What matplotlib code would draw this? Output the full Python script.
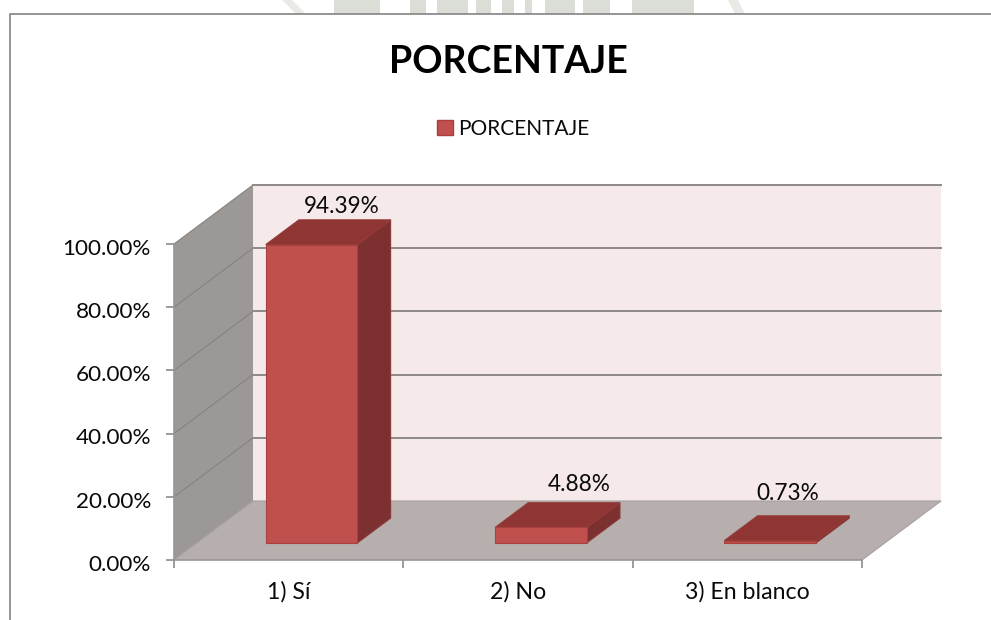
import matplotlib
matplotlib.use('Agg')
import matplotlib.pyplot as plt
from matplotlib.patches import Polygon, Patch, Rectangle
from matplotlib.transforms import ScaledTranslation

categories = ['1) Sí', '2) No', '3) En blanco']
valores = [94.39, 4.88, 0.73]
etiquetas = ['94.39%', '4.88%', '0.73%']
yticks = [0, 20, 40, 60, 80, 100]
ytick_labels = ['0.00%', '20.00%', '40.00%', '60.00%', '80.00%', '100.00%']

W, H = 991, 620
plt.rcParams['font.family'] = ['Lato', 'DejaVu Sans']

fig = plt.figure(figsize=(W / 100, H / 100), dpi=100)

# faint watermark of the scanned page, cut off by the chart frame
for a, b in [(334, 380), (410, 426), (437, 468), (476, 491), (502, 514), (525, 532), (545, 575),
             (583, 610), (632, 694)]:
    fig.add_artist(Rectangle((a / W, 1 - 14 / H), (b - a) / W, 14 / H, transform=fig.transFigure,
                             facecolor='#DADED6', edgecolor='none'))
for a, b in [(282, 306), (728, 745)]:
    fig.add_artist(Polygon([(a / W, 1), ((a + 10) / W, 1), (b / W, 1 - 14 / H), ((b - 10) / W, 1 - 14 / H)],
                           closed=True, transform=fig.transFigure, facecolor='#E8EAE5', edgecolor='none'))

# axes = front plane of the 3d box
left, right, top, bottom = 174, 862, 244, 560
ax = fig.add_axes([left / W, 1 - bottom / H, (right - left) / W, (bottom - top) / H])
ax.set_xlim(0, 3)
ax.set_ylim(0, 100)
ax.patch.set_visible(False)

# depth of the box in data units
px_x = (right - left) / 3
px_y = (bottom - top) / 100
DX = 79 / px_x
DY = 59 / px_y


def p(x, y, d=0.0):
    return (x + DX * d, y + DY * d)


def cara(puntos, color, edge=None, z=1, lw=0.8):
    ax.add_patch(Polygon(puntos, closed=True, facecolor=color, edgecolor=edge or color,
                         linewidth=lw, zorder=z, clip_on=False))


# back wall, side wall, floor
cara([p(0, 0, 1), p(3, 0, 1), p(3, 100, 1), p(0, 100, 1)], '#F5E9E9', z=1, lw=0)
cara([p(0, 0), p(0, 0, 1), p(0, 100, 1), p(0, 100)], '#9C9896', z=1, lw=0)
cara([p(0, 0), p(3, 0), p(3, 0, 1), p(0, 0, 1)], '#B6AFAE', z=1, lw=0)

# gridlines run along side wall and back wall
for t in yticks[1:]:
    ax.plot(*zip(p(0, t), p(0, t, 1)), color='#868280', lw=0.8, zorder=2, clip_on=False)
    ax.plot(*zip(p(0, t, 1), p(3, t, 1)), color='#8E8A88', lw=1.4, zorder=2, clip_on=False)
ax.plot(*zip(p(0, 0), p(0, 0, 1), p(3, 0, 1), p(3, 0)), color='#A5A09F', lw=0.8, zorder=2,
        clip_on=False)

# bars
ancho = 0.4
d0, d1 = 0.29, 0.71
for i, v in enumerate(valores):
    x0 = i + 0.5 - ancho / 2
    x1 = x0 + ancho
    cara([p(x1, 0, d0), p(x1, 0, d1), p(x1, v, d1), p(x1, v, d0)], '#7C3130', '#8A3A38', z=3)
    cara([p(x0, v, d0), p(x1, v, d0), p(x1, v, d1), p(x0, v, d1)], '#8F3634', '#953C3A', z=3)
    cara([p(x0, 0, d0), p(x1, 0, d0), p(x1, v, d0), p(x0, v, d0)], '#C0504D', '#A8403D', z=4)

# data labels, offset by hand from the back top corner of each bar
offsets = [(-49, 13), (-41, 18), (-62, 22)]
for i, v in enumerate(valores):
    x1 = i + 0.5 + ancho / 2
    ax.annotate(etiquetas[i], xy=p(x1, v, d1), xytext=offsets[i], textcoords='offset pixels',
                ha='center', va='center', fontsize=16.3, color='#0A0A0A', zorder=6,
                annotation_clip=False)

# axes
ax.set_yticks(yticks)
ax.set_yticklabels(ytick_labels, fontsize=16.2, color='#0A0A0A')
ax.set_xticks([0, 1, 2, 3])
ax.set_xticklabels([])
ax.set_xticks([0.5, 1.5, 2.5], minor=True)
ax.set_xticklabels(categories, minor=True, fontsize=16.7, color='#0A0A0A')
ax.tick_params(axis='x', which='minor', length=0, pad=15.5)
ax.tick_params(axis='x', which='major', length=6, width=1.2, color='#8E8A88', direction='out')
ax.tick_params(axis='y', length=6, width=1.2, color='#8E8A88', pad=10.5)
# tick labels sit a little lower than the ticks in the original
bajar = ScaledTranslation(0, -2 / 72, fig.dpi_scale_trans)
for lab in ax.get_yticklabels():
    lab.set_transform(lab.get_transform() + bajar)
for s in ['top', 'right']:
    ax.spines[s].set_visible(False)
for s in ['left', 'bottom']:
    ax.spines[s].set_color('#9A9694')
    ax.spines[s].set_linewidth(1.2)
    ax.spines[s].set_zorder(5)

# outer frame of the chart (only left and top are visible)
fig.add_artist(plt.Line2D([10 / W, 10 / W, 1], [0, 1 - 14 / H, 1 - 14 / H], color='#8C8C8C', lw=1.3))

fig.text(508 / W, 1 - 62 / H, 'PORCENTAJE', ha='center', va='center', fontsize=27,
         fontweight='bold', color='black')
fig.legend(handles=[Patch(facecolor='#C0504D', edgecolor='#A8403D', label='PORCENTAJE')],
           loc='center', bbox_to_anchor=(513 / W, 1 - 129 / H), frameon=False, fontsize=15,
           handlelength=0.75, handleheight=0.75, handletextpad=0.25, labelcolor='#0A0A0A')

fig.savefig('out.png', dpi=100)
